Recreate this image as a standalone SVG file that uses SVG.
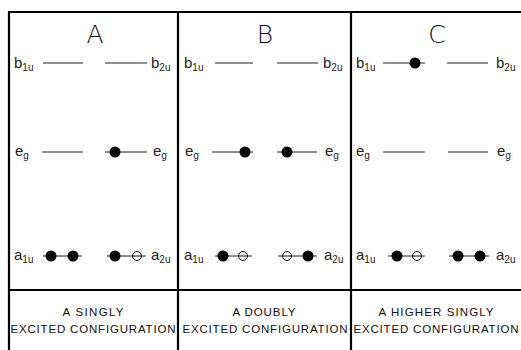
<svg xmlns="http://www.w3.org/2000/svg" width="521" height="350" viewBox="0 0 521 350">
<style>
.frame{stroke:#000;stroke-width:2.2;fill:none}
.lvl{stroke:#222;stroke-width:1.1}
.lab{font-family:"Liberation Sans",Arial,sans-serif;font-size:15px;fill:#222}
.sub{font-size:10px}
.big{font-family:"DejaVu Sans",sans-serif;font-weight:200;font-size:25px;fill:#111;text-anchor:middle}
.cap{font-family:"Liberation Sans",Arial,sans-serif;font-size:11.5px;fill:#111;text-anchor:middle}
.full{fill:#000}
.open{fill:#fff;stroke:#000;stroke-width:1}
</style>
<rect width="521" height="350" fill="#fff"/>
<g id="frame">
<line class="frame" x1="8" y1="12" x2="521" y2="12"/>
<line class="frame" x1="9" y1="12" x2="9" y2="350"/>
<line class="frame" x1="178" y1="12" x2="178" y2="350"/>
<line class="frame" x1="351" y1="12" x2="351" y2="350"/>
<line class="frame" x1="8" y1="290" x2="521" y2="290"/>
</g>
<g id="panelA">
<text class="big" x="95" y="43">A</text>
<text class="lab" x="14" y="68">b<tspan class="sub" dy="3">1u</tspan></text>
<line class="lvl" x1="43" y1="63" x2="83" y2="63"/>
<line class="lvl" x1="105" y1="63" x2="147" y2="63"/>
<text class="lab" x="151" y="68">b<tspan class="sub" dy="3">2u</tspan></text>
<text class="lab" x="15" y="156">e<tspan class="sub" dy="3">g</tspan></text>
<line class="lvl" x1="42" y1="152" x2="83" y2="152"/>
<line class="lvl" x1="105" y1="152" x2="147" y2="152"/>
<circle class="full" cx="115" cy="152" r="5.5"/>
<text class="lab" x="153" y="156">e<tspan class="sub" dy="3">g</tspan></text>
<text class="lab" x="14" y="260">a<tspan class="sub" dy="3">1u</tspan></text>
<line class="lvl" x1="43" y1="256" x2="82" y2="256"/>
<circle class="full" cx="51" cy="256" r="5.5"/>
<circle class="full" cx="73" cy="256" r="5.5"/>
<line class="lvl" x1="107" y1="256" x2="146" y2="256"/>
<circle class="full" cx="115" cy="256" r="5.5"/>
<circle class="open" cx="137" cy="256" r="4.5"/>
<line class="lvl" x1="132" y1="256" x2="142" y2="256"/>
<text class="lab" x="151" y="260">a<tspan class="sub" dy="3">2u</tspan></text>
<text class="cap" x="93" y="316" textLength="61">A SINGLY</text>
<text class="cap" x="93" y="333" textLength="165">EXCITED CONFIGURATION</text>
</g>
<g id="panelB">
<text class="big" x="265" y="43">B</text>
<text class="lab" x="184" y="68">b<tspan class="sub" dy="3">1u</tspan></text>
<line class="lvl" x1="215" y1="63" x2="253" y2="63"/>
<line class="lvl" x1="277" y1="63" x2="318" y2="63"/>
<text class="lab" x="323" y="68">b<tspan class="sub" dy="3">2u</tspan></text>
<text class="lab" x="185" y="156">e<tspan class="sub" dy="3">g</tspan></text>
<line class="lvl" x1="212" y1="152" x2="253" y2="152"/>
<circle class="full" cx="245" cy="152" r="5.5"/>
<line class="lvl" x1="277" y1="152" x2="317" y2="152"/>
<circle class="full" cx="287" cy="152" r="5.5"/>
<text class="lab" x="325" y="156">e<tspan class="sub" dy="3">g</tspan></text>
<text class="lab" x="184" y="260">a<tspan class="sub" dy="3">1u</tspan></text>
<line class="lvl" x1="215" y1="256" x2="252" y2="256"/>
<circle class="full" cx="223" cy="256" r="5.5"/>
<circle class="open" cx="243" cy="256" r="4.5"/>
<line class="lvl" x1="238" y1="256" x2="248" y2="256"/>
<line class="lvl" x1="278" y1="256" x2="317" y2="256"/>
<circle class="open" cx="287" cy="256" r="4.5"/>
<line class="lvl" x1="282" y1="256" x2="292" y2="256"/>
<circle class="full" cx="308" cy="256" r="5.5"/>
<text class="lab" x="324" y="260">a<tspan class="sub" dy="3">2u</tspan></text>
<text class="cap" x="264" y="316" textLength="63">A DOUBLY</text>
<text class="cap" x="265" y="333" textLength="165">EXCITED CONFIGURATION</text>
</g>
<g id="panelC">
<text class="big" x="437" y="43">C</text>
<text class="lab" x="356" y="68">b<tspan class="sub" dy="3">1u</tspan></text>
<line class="lvl" x1="383" y1="63" x2="425" y2="63"/>
<circle class="full" cx="415" cy="63" r="5.5"/>
<line class="lvl" x1="447" y1="63" x2="488" y2="63"/>
<text class="lab" x="496" y="68">b<tspan class="sub" dy="3">2u</tspan></text>
<text class="lab" x="356" y="156">e<tspan class="sub" dy="3">g</tspan></text>
<line class="lvl" x1="383" y1="152" x2="425" y2="152"/>
<line class="lvl" x1="448" y1="152" x2="488" y2="152"/>
<text class="lab" x="497" y="156">e<tspan class="sub" dy="3">g</tspan></text>
<text class="lab" x="356" y="260">a<tspan class="sub" dy="3">1u</tspan></text>
<line class="lvl" x1="388" y1="256" x2="425" y2="256"/>
<circle class="full" cx="397" cy="256" r="5.5"/>
<circle class="open" cx="417" cy="256" r="4.5"/>
<line class="lvl" x1="412" y1="256" x2="422" y2="256"/>
<line class="lvl" x1="449" y1="256" x2="489" y2="256"/>
<circle class="full" cx="458" cy="256" r="5.5"/>
<circle class="full" cx="480" cy="256" r="5.5"/>
<text class="lab" x="496" y="260">a<tspan class="sub" dy="3">2u</tspan></text>
<text class="cap" x="436" y="316" textLength="115">A HIGHER SINGLY</text>
<text class="cap" x="436" y="333" textLength="165">EXCITED CONFIGURATION</text>
</g>
</svg>
